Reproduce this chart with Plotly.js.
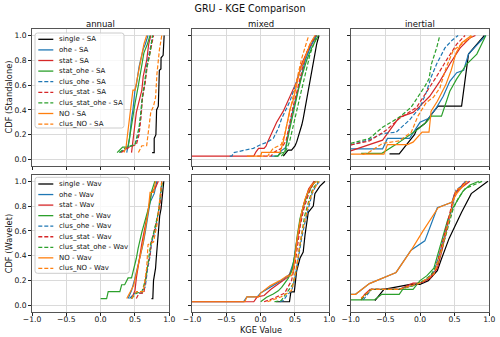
<!DOCTYPE html>
<html><head><meta charset="utf-8">
<script src="https://cdn.plot.ly/plotly-3.0.1.min.js"></script>
<style>html,body{margin:0;padding:0;background:#fff}#chart{width:500px;height:337px}</style>
</head><body><div id="chart"></div>
<script>
// ---------- labels ----------
const seriesNames = ['single','ohe','stat','stat_ohe','clus_ohe','clus_stat','clus_stat_ohe','NO','clus_NO'];
const panelTitles = ['annual','mixed','inertial'];
const rowLabels = ['CDF (Standalone)','CDF (Wavelet)'];
const rowSuffix = ['SA','Wav'];
const xAxisLabel = 'KGE Value';
const xTickVals = [-1,-0.5,0,0.5,1];
const xTickText = ['\u22121.0','\u22120.5','0.0','0.5','1.0'];
const yTickVals = [0,0.2,0.4,0.6,0.8,1.0];
const yTickText = ['0.0','0.2','0.4','0.6','0.8','1.0'];

// ---------- data: CDF curves (KGE value, cumulative fraction) ----------
// order: single, ohe, stat, stat_ohe, clus_ohe, clus_stat, clus_stat_ohe, NO, clus_NO
const annualSA_x = [
 [0.75,0.78,0.78,0.805,0.815,0.84,0.855,0.878,0.88,0.91,0.925],
 [0.38,0.42,0.45,0.47,0.5,0.52,0.56,0.58,0.62,0.65,0.69],
 [0.45,0.47,0.5,0.52,0.56,0.6,0.62,0.67,0.7,0.73],
 [0.24,0.32,0.4,0.44,0.47,0.5,0.55,0.6,0.63,0.68,0.72],
 [0.28,0.4,0.5,0.55,0.58,0.6,0.64,0.67,0.72,0.76],
 [0.3,0.42,0.52,0.56,0.59,0.61,0.65,0.68,0.73,0.77],
 [0.27,0.38,0.5,0.56,0.59,0.61,0.64,0.67,0.72,0.755],
 [0.34,0.37,0.4,0.44,0.47,0.5,0.52,0.56,0.58,0.63,0.67],
 [0.55,0.6,0.67,0.69,0.73,0.77,0.8,0.82,0.855,0.89]
];
const annualSA_y = [
 [0.056,0.056,0.17,0.2,0.4,0.43,0.72,0.73,0.82,0.84,1.0],
 [0.056,0.17,0.33,0.4,0.56,0.6,0.75,0.8,0.89,0.93,1.0],
 [0.056,0.15,0.27,0.38,0.47,0.56,0.67,0.8,0.93,1.0],
 [0.056,0.1,0.1,0.25,0.37,0.45,0.6,0.78,0.86,0.93,1.0],
 [0.056,0.1,0.12,0.2,0.33,0.47,0.6,0.76,0.89,1.0],
 [0.056,0.1,0.12,0.2,0.35,0.5,0.62,0.76,0.89,1.0],
 [0.056,0.1,0.12,0.26,0.4,0.52,0.62,0.73,0.86,1.0],
 [0.056,0.1,0.24,0.4,0.56,0.56,0.62,0.75,0.79,0.93,1.0],
 [0.056,0.111,0.111,0.22,0.38,0.43,0.5,0.69,0.88,1.0]
];
const mixedSA_x = [
 [0.33,0.4,0.45,0.5,0.524,0.573,0.6,0.62,0.67,0.718,0.767,0.816,0.85],
 [0.15,0.25,0.3,0.37,0.4,0.45,0.5,0.55,0.6,0.65,0.72,0.8],
 [-1,-0.1,-0.07,-0.03,0.05,0.08,0.1,0.233,0.33,0.427,0.524,0.597,0.67,0.816],
 [0.2,0.25,0.29,0.35,0.403,0.45,0.5,0.549,0.597,0.67,0.743,0.84],
 [-0.45,-0.42,-0.39,-0.25,-0.107,-0.01,0.087,0.184,0.257,0.306,0.379,0.427,0.476,0.549,0.597,0.67,0.743,0.816],
 [-0.05,0.15,0.2,0.3,0.37,0.42,0.47,0.52,0.57,0.62,0.66,0.72,0.8],
 [0.3,0.36,0.42,0.47,0.52,0.57,0.62,0.67,0.72,0.78,0.82],
 [-0.2,0.0,0.015,0.282,0.33,0.379,0.427,0.476,0.524,0.573,0.646,0.718,0.791],
 [0.0,0.1,0.184,0.3,0.35,0.4,0.45,0.5,0.55,0.6,0.65,0.7]
];
const mixedSA_y = [
 [0.028,0.075,0.075,0.11,0.14,0.22,0.28,0.33,0.48,0.64,0.8,0.93,1.0],
 [0.028,0.028,0.07,0.1,0.2,0.35,0.46,0.58,0.7,0.8,0.9,1.0],
 [0.028,0.028,0.06,0.09,0.09,0.11,0.14,0.3,0.39,0.51,0.628,0.77,0.86,1.0],
 [0.028,0.028,0.05,0.06,0.195,0.32,0.457,0.56,0.666,0.8,0.9,1.0],
 [0.028,0.028,0.056,0.07,0.09,0.117,0.138,0.17,0.25,0.33,0.42,0.47,0.55,0.666,0.745,0.836,0.93,1.0],
 [0.028,0.028,0.06,0.09,0.15,0.3,0.42,0.53,0.64,0.74,0.85,0.93,1.0],
 [0.028,0.06,0.14,0.25,0.38,0.5,0.62,0.74,0.85,0.94,1.0],
 [0.028,0.028,0.057,0.057,0.143,0.274,0.405,0.483,0.614,0.72,0.82,0.93,1.0],
 [0.028,0.028,0.09,0.12,0.2,0.33,0.45,0.58,0.7,0.82,0.92,1.0]
];
const inertialSA_x = [
 [-0.44,-0.3,-0.18,-0.13,-0.08,-0.05,0.0,0.07,0.16,0.26,0.6,0.7,0.93],
 [-1,-0.54,-0.47,-0.15,0.0,0.12,0.24,0.335,0.43,0.53,0.63,0.7,0.85,0.95],
 [-1,-0.54,-0.3,-0.1,0.0,0.14,0.286,0.43,0.58,0.72,0.8],
 [-0.85,-0.55,-0.35,-0.2,-0.05,0.09,0.165,0.31,0.43,0.53,0.675,0.82,0.95],
 [-1,-0.73,-0.54,-0.345,-0.15,0.0,0.09,0.165,0.24,0.36,0.46,0.55],
 [-1,-0.73,-0.49,-0.3,-0.05,0.09,0.24,0.38,0.53,0.65],
 [-1,-0.73,-0.54,-0.3,-0.13,-0.03,0.07,0.13,0.165,0.24,0.286],
 [-1,-0.52,-0.47,-0.18,-0.1,0.03,0.13,0.16,0.25,0.37,0.45,0.52,0.6,0.74],
 [-0.83,-0.73,-0.54,-0.3,-0.126,-0.03,0.09,0.19,0.286,0.38,0.48,0.6,0.77]
];
const inertialSA_y = [
 [0.045,0.045,0.13,0.17,0.2,0.24,0.26,0.29,0.36,0.43,0.43,0.85,1.0],
 [0.085,0.085,0.17,0.17,0.3,0.33,0.42,0.51,0.63,0.7,0.72,0.85,0.94,1.0],
 [0.07,0.156,0.34,0.38,0.43,0.51,0.63,0.77,0.9,0.98,1.0],
 [0.05,0.05,0.12,0.18,0.235,0.3,0.35,0.35,0.55,0.65,0.77,0.85,1.0],
 [0.117,0.16,0.21,0.22,0.32,0.42,0.54,0.67,0.77,0.9,0.96,1.0],
 [0.117,0.15,0.235,0.33,0.42,0.54,0.67,0.8,0.93,1.0],
 [0.13,0.17,0.26,0.34,0.42,0.5,0.59,0.65,0.77,0.9,1.0],
 [0.043,0.043,0.12,0.12,0.14,0.22,0.22,0.39,0.47,0.6,0.72,0.86,0.94,1.0],
 [0.04,0.06,0.13,0.15,0.22,0.35,0.46,0.5,0.575,0.745,0.88,0.93,1.0]
];
const annualWav_x = [
 [0.74,0.76,0.77,0.8,0.81,0.84,0.86,0.88,0.9,0.91,0.92],
 [0.4,0.45,0.5,0.55,0.57,0.62,0.65,0.7,0.72,0.78,0.82],
 [0.45,0.5,0.52,0.57,0.6,0.67,0.7,0.74,0.8,0.84],
 [0.0,0.087,0.11,0.28,0.306,0.35,0.4,0.45,0.52,0.546,0.6,0.67,0.72,0.743,0.79],
 [0.42,0.5,0.6,0.65,0.68,0.72,0.74,0.8,0.85,0.87,0.89],
 [0.52,0.56,0.63,0.67,0.72,0.74,0.8,0.86,0.88,0.89],
 [0.45,0.52,0.6,0.66,0.7,0.73,0.78,0.84,0.87,0.9],
 [0.38,0.42,0.48,0.55,0.62,0.69,0.72,0.77,0.8],
 [0.45,0.52,0.62,0.67,0.69,0.72,0.77,0.82,0.85,0.89]
];
const annualWav_y = [
 [0.056,0.056,0.2,0.3,0.38,0.59,0.72,0.78,0.89,0.91,1.0],
 [0.056,0.12,0.22,0.33,0.38,0.5,0.59,0.75,0.83,0.9,1.0],
 [0.056,0.12,0.22,0.41,0.5,0.7,0.8,0.91,0.95,1.0],
 [0.056,0.056,0.111,0.111,0.167,0.167,0.222,0.222,0.38,0.46,0.59,0.72,0.83,0.92,1.0],
 [0.056,0.1,0.1,0.15,0.28,0.4,0.5,0.62,0.78,0.9,1.0],
 [0.056,0.1,0.1,0.28,0.41,0.51,0.645,0.78,0.9,1.0],
 [0.056,0.1,0.11,0.22,0.38,0.5,0.6,0.75,0.88,1.0],
 [0.056,0.1,0.16,0.33,0.51,0.75,0.91,0.91,1.0],
 [0.056,0.111,0.111,0.3,0.49,0.5,0.51,0.65,0.8,1.0]
];
const mixedWav_x = [
 [0.22,0.42,0.44,0.49,0.524,0.573,0.62,0.646,0.694,0.767,0.79,0.864,0.937],
 [-1,-0.25,-0.2,-0.05,0.0,0.15,0.3,0.42,0.48,0.51,0.55,0.59,0.64,0.7,0.8],
 [-1,-0.1,-0.05,0.05,0.15,0.3,0.4,0.47,0.51,0.54,0.58,0.63,0.7,0.78],
 [0.0,0.087,0.184,0.257,0.306,0.354,0.403,0.451,0.5,0.534,0.573,0.62,0.694,0.79],
 [0.28,0.33,0.38,0.45,0.5,0.55,0.6,0.65,0.7,0.75,0.8,0.86],
 [0.05,0.2,0.35,0.45,0.5,0.54,0.58,0.63,0.7,0.78],
 [0.2,0.3,0.4,0.47,0.52,0.56,0.6,0.64,0.7,0.76,0.84],
 [-1,-0.23,-0.2,-0.03,0.0,0.136,0.28,0.38,0.45,0.476,0.5,0.524,0.563,0.597,0.646,0.694,0.743,0.816],
 [0.1,0.3,0.45,0.52,0.56,0.6,0.66,0.7,0.76,0.85]
];
const mixedWav_y = [
 [0.03,0.03,0.11,0.11,0.276,0.38,0.43,0.566,0.75,0.8,0.9,0.96,1.0],
 [0.03,0.03,0.07,0.07,0.1,0.15,0.2,0.25,0.35,0.47,0.6,0.72,0.83,0.93,1.0],
 [0.03,0.03,0.07,0.08,0.13,0.19,0.23,0.3,0.45,0.57,0.7,0.82,0.94,1.0],
 [0.03,0.066,0.092,0.118,0.145,0.184,0.22,0.276,0.41,0.566,0.7,0.8,0.91,1.0],
 [0.03,0.04,0.08,0.118,0.22,0.4,0.55,0.68,0.8,0.9,0.96,1.0],
 [0.03,0.06,0.1,0.2,0.33,0.5,0.65,0.78,0.9,1.0],
 [0.03,0.04,0.118,0.17,0.3,0.45,0.6,0.72,0.84,0.94,1.0],
 [0.03,0.03,0.07,0.07,0.1,0.158,0.2,0.237,0.24,0.28,0.38,0.51,0.645,0.75,0.855,0.92,0.97,1.0],
 [0.03,0.07,0.12,0.28,0.45,0.58,0.72,0.82,0.92,1.0]
];
const inertialWav_x = [
 [-0.65,-0.52,-0.14,0.0,0.12,0.25,0.3,0.42,0.6,0.74,0.98],
 [-1,-0.93,-0.73,-0.54,-0.345,-0.13,0.07,0.25,0.46,0.5,0.53,0.66],
 [-0.85,-0.8,-0.72,-0.3,-0.1,0.0,0.15,0.25,0.32,0.38,0.43,0.48,0.5,0.6,0.72],
 [-1,-0.66,-0.55,-0.3,-0.25,-0.1,0.0,0.1,0.2,0.25,0.3,0.35,0.4,0.47,0.55,0.62,0.72,0.85],
 [-0.82,-0.76,-0.7,-0.3,-0.1,0.05,0.2,0.3,0.38,0.45,0.5,0.52,0.62,0.7],
 [-0.85,-0.78,-0.7,-0.3,-0.05,0.1,0.22,0.3,0.36,0.42,0.48,0.52,0.6,0.65],
 [-0.85,-0.78,-0.7,-0.3,-0.1,0.05,0.15,0.25,0.3,0.36,0.42,0.48,0.55,0.65,0.9],
 [-1,-0.93,-0.73,-0.54,-0.345,-0.126,0.044,0.262,0.456,0.53,0.6,0.675],
 [-0.85,-0.7,-0.3,0.0,0.2,0.3,0.38,0.45,0.5,0.52,0.6,0.68]
];
const inertialWav_y = [
 [0.04,0.13,0.17,0.17,0.2,0.28,0.36,0.54,0.75,0.9,1.0],
 [0.09,0.09,0.176,0.22,0.266,0.445,0.52,0.787,0.83,0.9,0.92,1.0],
 [0.045,0.09,0.13,0.13,0.18,0.18,0.22,0.3,0.45,0.6,0.72,0.85,0.9,0.95,1.0],
 [0.045,0.045,0.09,0.09,0.13,0.13,0.2,0.24,0.3,0.4,0.5,0.6,0.69,0.78,0.85,0.92,0.97,1.0],
 [0.045,0.09,0.13,0.13,0.16,0.19,0.27,0.45,0.62,0.75,0.88,0.93,0.97,1.0],
 [0.045,0.09,0.13,0.13,0.17,0.2,0.28,0.45,0.6,0.72,0.86,0.92,0.96,1.0],
 [0.045,0.09,0.13,0.13,0.16,0.2,0.24,0.33,0.42,0.55,0.66,0.78,0.86,0.94,1.0],
 [0.09,0.09,0.176,0.22,0.266,0.445,0.6,0.787,0.83,0.9,0.95,1.0],
 [0.06,0.13,0.13,0.18,0.25,0.42,0.6,0.75,0.88,0.93,0.95,1.0]
];

// ---------- styles ----------
const lineColors = ['#000000','#1f77b4','#d62728','#2ca02c','#1f77b4','#d62728','#2ca02c','#ff7f0e','#ff7f0e'];
const lineDash = ['solid','solid','solid','solid','4px,2px','4px,2px','4px,2px','solid','4px,2px'];
const FONT = 'DejaVu Sans';
const W = 500, H = 337;
const colPx = [[32,169.3],[192,329.3],[350.7,489.3]];
const rowPx = [[29.3,165.7],[175,311.7]];
const px2x = p => p / W;
const py2y = p => 1 - p / H;

const panels = [
  [annualSA_x, annualSA_y], [mixedSA_x, mixedSA_y], [inertialSA_x, inertialSA_y],
  [annualWav_x, annualWav_y], [mixedWav_x, mixedWav_y], [inertialWav_x, inertialWav_y]
];

const traces = [];
const layout = {
  width: W, height: H,
  margin: {l:0, r:0, t:0, b:0},
  paper_bgcolor: '#fff', plot_bgcolor: '#fff',
  showlegend: false,
  font: {family: FONT, size: 8, color: '#111'},
  title: {text: 'GRU - KGE Comparison', x: 0.5, xanchor: 'center', y: 1 - 8.5/H, yanchor: 'middle',
          font: {family: FONT, size: 9.6, color: '#111'}},
  annotations: [], shapes: []
};

panels.forEach((pd, p) => {
  const row = Math.floor(p / 3), col = p % 3;
  const id = p === 0 ? '' : String(p + 1);
  pd[0].forEach((xs, s) => {
    traces.push({
      type: 'scatter', mode: 'lines', x: xs, y: pd[1][s],
      xaxis: 'x' + id, yaxis: 'y' + id,
      name: seriesNames[s] + ' - ' + rowSuffix[row],
      line: {color: lineColors[s], width: 1.2, dash: lineDash[s]},
      hoverinfo: 'skip'
    });
  });
  const common = {
    ticks: 'outside', ticklen: 3, tickwidth: 1, tickcolor: '#222',
    showgrid: true, gridcolor: '#dadada', gridwidth: 1,
    showline: true, mirror: true, linecolor: '#555', linewidth: 1,
    zeroline: false, fixedrange: true,
    tickfont: {family: FONT, size: 7.6, color: '#111'}
  };
  layout['xaxis' + id] = Object.assign({}, common, {
    domain: [px2x(colPx[col][0]), px2x(colPx[col][1])],
    anchor: 'y' + id, range: [-1, 1],
    tickmode: 'array', tickvals: xTickVals, ticktext: xTickText,
    ticklabelstandoff: -3,
    showticklabels: row === 1, title: {text: ''}
  });
  layout['yaxis' + id] = Object.assign({}, common, {
    domain: [py2y(rowPx[row][1]), py2y(rowPx[row][0])],
    anchor: 'x' + id, range: [-0.05, 1.05],
    tickmode: 'array', tickvals: yTickVals, ticktext: yTickText,
    showticklabels: col === 0, title: {text: ''}
  });
});

// subplot titles
panelTitles.forEach((t, c) => {
  layout.annotations.push({
    text: t, xref: 'paper', yref: 'paper',
    x: px2x((colPx[c][0] + colPx[c][1]) / 2), y: py2y(24),
    xanchor: 'center', yanchor: 'middle', showarrow: false,
    font: {family: FONT, size: 8.5, color: '#111'}
  });
});
// axis titles
rowLabels.forEach((t, r) => {
  layout.annotations.push({
    text: t, xref: 'paper', yref: 'paper', textangle: -90,
    x: px2x(9), y: py2y((rowPx[r][0] + rowPx[r][1]) / 2),
    xanchor: 'center', yanchor: 'middle', showarrow: false,
    font: {family: FONT, size: 8.3, color: '#111'}
  });
});
layout.annotations.push({
  text: xAxisLabel, xref: 'paper', yref: 'paper',
  x: px2x((colPx[1][0] + colPx[1][1]) / 2), y: py2y(330),
  xanchor: 'center', yanchor: 'middle', showarrow: false,
  font: {family: FONT, size: 8.2, color: '#111'}
});

// legends (drawn like matplotlib's in-axes legend)
function roundRect(x0, y0, x1, y1, r) {
  const P = (a, b) => px2x(a) + ',' + py2y(b);
  return 'M' + P(x0 + r, y0) + ' L' + P(x1 - r, y0) + ' Q' + P(x1, y0) + ' ' + P(x1, y0 + r) +
    ' L' + P(x1, y1 - r) + ' Q' + P(x1, y1) + ' ' + P(x1 - r, y1) +
    ' L' + P(x0 + r, y1) + ' Q' + P(x0, y1) + ' ' + P(x0, y1 - r) +
    ' L' + P(x0, y0 + r) + ' Q' + P(x0, y0) + ' ' + P(x0 + r, y0) + ' Z';
}
const legendBoxes = [
  {x0: 35, x1: 124, y0: 33, y1: 128, first: 39.3, step: 10.6},
  {x0: 35, x1: 129.3, y0: 177.3, y1: 273.3, first: 184, step: 10.55}
];
legendBoxes.forEach((b, row) => {
  layout.shapes.push({
    type: 'path', xref: 'paper', yref: 'paper', layer: 'above',
    path: roundRect(b.x0, b.y0, b.x1, b.y1, 2.5),
    fillcolor: 'rgba(255,255,255,0.8)', line: {color: '#cccccc', width: 1}
  });
  seriesNames.forEach((n, s) => {
    const yy = b.first + s * b.step;
    layout.shapes.push({
      type: 'line', xref: 'paper', yref: 'paper', layer: 'above',
      x0: px2x(38.3), x1: px2x(53.3), y0: py2y(yy), y1: py2y(yy),
      line: {color: lineColors[s], width: 1.3, dash: lineDash[s]}
    });
    layout.annotations.push({
      text: n + ' - ' + rowSuffix[row], xref: 'paper', yref: 'paper',
      x: px2x(57.3), y: py2y(yy), xanchor: 'left', yanchor: 'middle',
      showarrow: false, font: {family: FONT, size: 7, color: '#111'}
    });
  });
});

Plotly.newPlot('chart', traces, layout, {displayModeBar: false, staticPlot: true});
</script>
</body></html>
